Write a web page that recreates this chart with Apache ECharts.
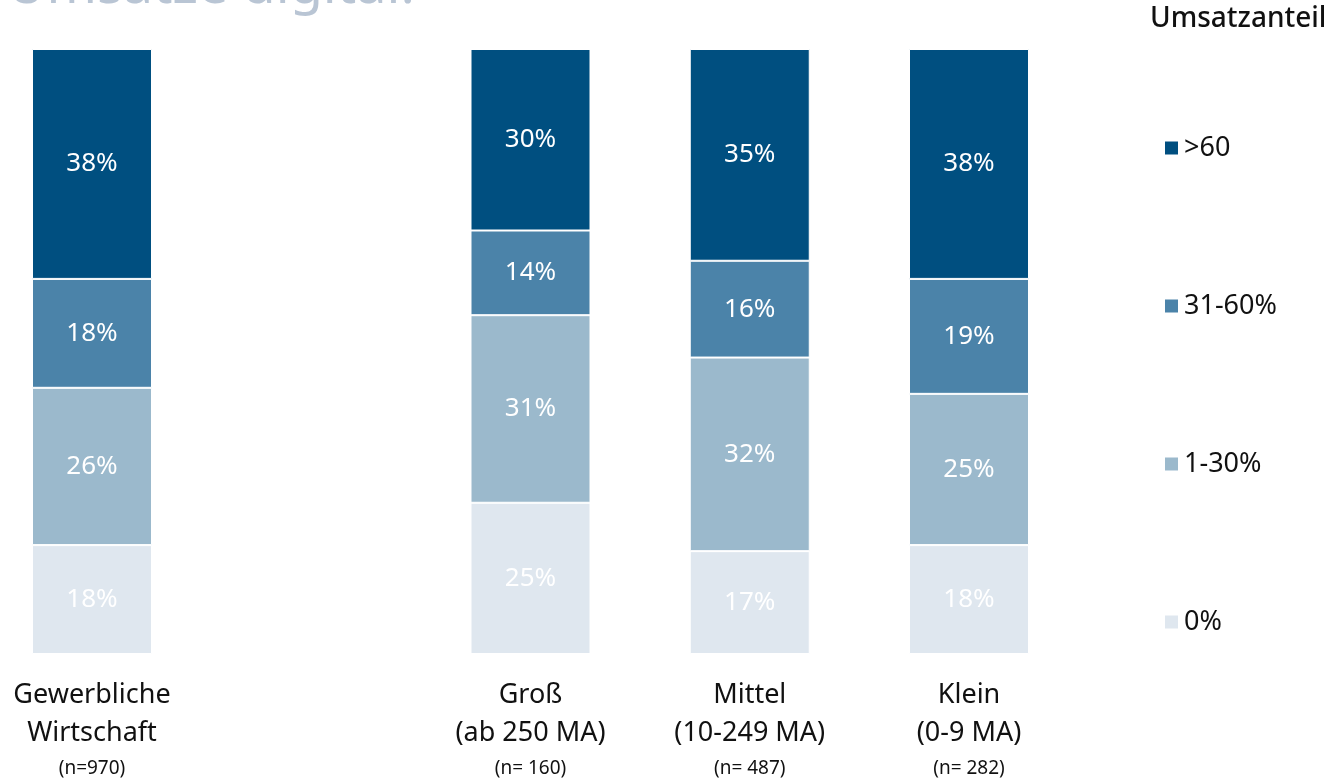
<!DOCTYPE html>
<html>
<head>
<meta charset="utf-8">
<script src="https://cdn.jsdelivr.net/npm/echarts@6/dist/echarts.min.js"></script>
<style>html,body{margin:0;padding:0;background:#fff;}#c{width:1337px;height:780px;}</style>
</head>
<body>
<div id="c"></div>
<script>
var categories = ['Gewerbliche\nWirtschaft', '', 'Groß\n(ab 250 MA)', 'Mittel\n(10-249 MA)', 'Klein\n(0-9 MA)'];
var sampleSizes = ['(n=970)', '', '(n= 160)', '(n= 487)', '(n= 282)'];
var seriesNames = ['0%', '1-30%', '31-60%', '>60'];
var share0 = [18, null, 25, 17, 18];
var share1to30 = [26, null, 31, 32, 25];
var share31to60 = [18, null, 14, 16, 19];
var shareOver60 = [38, null, 30, 35, 38];
var colors = ['#dfe7ef', '#9bb9cc', '#4b83a9', '#004f80'];
var legendOrder = ['>60', '31-60%', '1-30%', '0%'];

var values = [share0, share1to30, share31to60, shareOver60];
var chart = echarts.init(document.getElementById('c'));
var font = 'Noto Sans';
var series = seriesNames.map(function (name, i) {
  return {
    name: name,
    type: 'bar',
    stack: 'total',
    barWidth: 120,
    data: values[i],
    itemStyle: { color: colors[i], borderColor: '#fff', borderWidth: 1 },
    label: {
      show: true,
      position: 'inside',
      formatter: '{c}%',
      color: '#fff',
      fontFamily: font,
      fontSize: 26
    }
  };
});

chart.setOption({
  animation: false,
  title: {
    text: 'Umsätze digital.',
    left: 2,
    top: -44,
    textStyle: { color: '#b9c5d4', fontSize: 54, fontWeight: 'normal', fontFamily: font }
  },
  graphic: [{
    type: 'text',
    left: 1150,
    top: 5,
    style: { text: 'Umsatzanteil', fill: '#111', font: '500 28px "Noto Sans"' }
  }],
  legend: {
    orient: 'vertical',
    left: 1158,
    top: 129,
    data: legendOrder,
    icon: 'rect',
    itemWidth: 15,
    itemHeight: 15,
    itemGap: 130,
    textStyle: { fontSize: 27, color: '#111', fontFamily: font, lineHeight: 28 }
  },
  grid: { left: 92, width: 877, top: 49, bottom: 126, containLabel: false },
  xAxis: {
    type: 'category',
    boundaryGap: false,
    data: categories,
    axisLine: { show: false },
    axisTick: { show: false },
    axisLabel: {
      interval: 0,
      margin: 22,
      formatter: function (v, idx) {
        if (!v) return '';
        var parts = v.split('\n');
        return '{a|' + parts[0] + '}\n{a|' + parts[1] + '}\n{b|' + sampleSizes[idx] + '}';
      },
      rich: {
        a: { fontSize: 27, lineHeight: 38, color: '#111', fontFamily: font },
        b: { fontSize: 19, lineHeight: 34, color: '#111', fontFamily: font }
      }
    }
  },
  yAxis: { type: 'value', min: 0, max: 100, show: false },
  series: series
});
</script>
</body>
</html>
